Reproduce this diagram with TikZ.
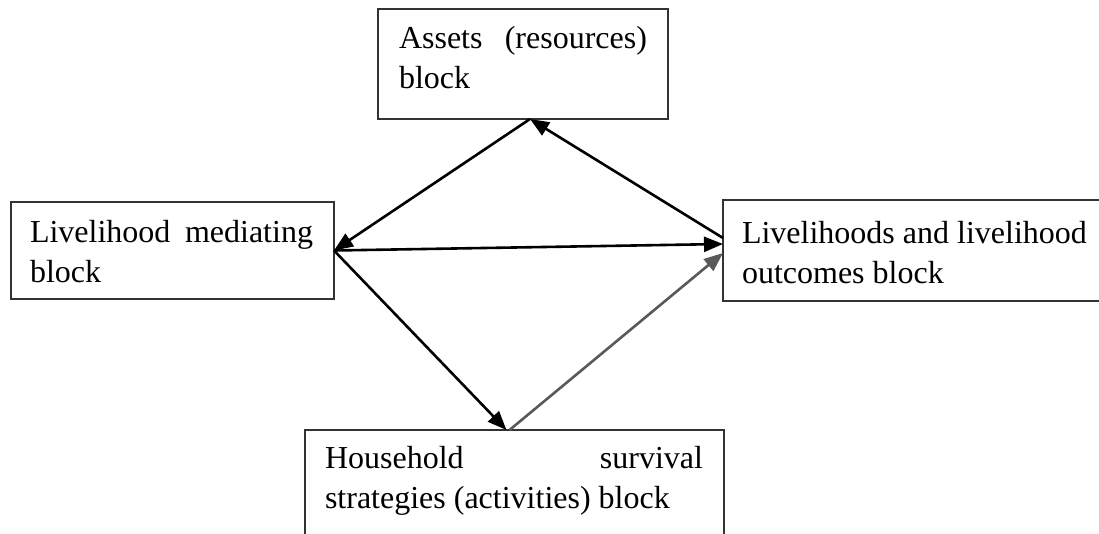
\documentclass[tikz,border=0pt]{standalone}
\usepackage{fontspec}
\setmainfont{Liberation Serif}
\usetikzlibrary{arrows.meta}
\hyphenpenalty=10000
\exhyphenpenalty=10000
\tolerance=10000
\hbadness=10000
\begin{document}
\begin{tikzpicture}[x=1pt,y=-1pt,
  boxshape/.style={draw=black!80, line width=1.2pt, inner sep=0pt, outer sep=0pt, anchor=north west},
  txt/.style={inner sep=0pt, outer sep=0pt, anchor=north west, align=justify,
    font=\fontsize{32}{40}\selectfont},
  conn/.style={line width=2.6pt, -{Triangle[length=19pt,width=15pt]}},
  grayconn/.style={conn, draw=black!65, fill=black!65}]
\useasboundingbox (0,0) rectangle (1099,533);
\clip (0,0) rectangle (1099,533);
% boxes
\node[boxshape, minimum width=290pt, minimum height=110pt] (assetsbox) at (378,9) {};
\node[boxshape, minimum width=323pt, minimum height=97pt] (medbox) at (11,202) {};
\node[boxshape, minimum width=420pt, minimum height=101pt] (outbox) at (723,200) {};
\node[boxshape, minimum width=419pt, minimum height=150pt] (housebox) at (305,430) {};
% texts
\node[txt, text width=248pt] (assetstxt) at (399,20) {\hyphenpenalty=10000\strut Assets (resources)\linebreak block};
\node[txt, text width=283pt] (medtxt) at (30,214) {\hyphenpenalty=10000\strut Livelihood mediating\linebreak block};
\node[txt, text width=347pt] (outtxt) at (742,215) {\hyphenpenalty=10000\strut Livelihoods and livelihood\newline outcomes block};
\node[txt, text width=378pt] (housetxt) at (325,440) {\hyphenpenalty=10000\strut Household survival\linebreak strategies (activities) block};
% connectors
\draw[conn] ([yshift=12.5pt]outbox.west) -- ([xshift=7pt]assetsbox.south);
\draw[conn] ([xshift=7pt]assetsbox.south) -- (medbox.east);
\draw[conn] (medbox.east) -- ([yshift=6.5pt]outbox.west);
\draw[conn] (medbox.east) -- ([xshift=-8pt]housebox.north);
\draw[grayconn] ([xshift=-5pt]housebox.north) -- ([yshift=-2.5pt]outbox.west);
\end{tikzpicture}
\end{document}
